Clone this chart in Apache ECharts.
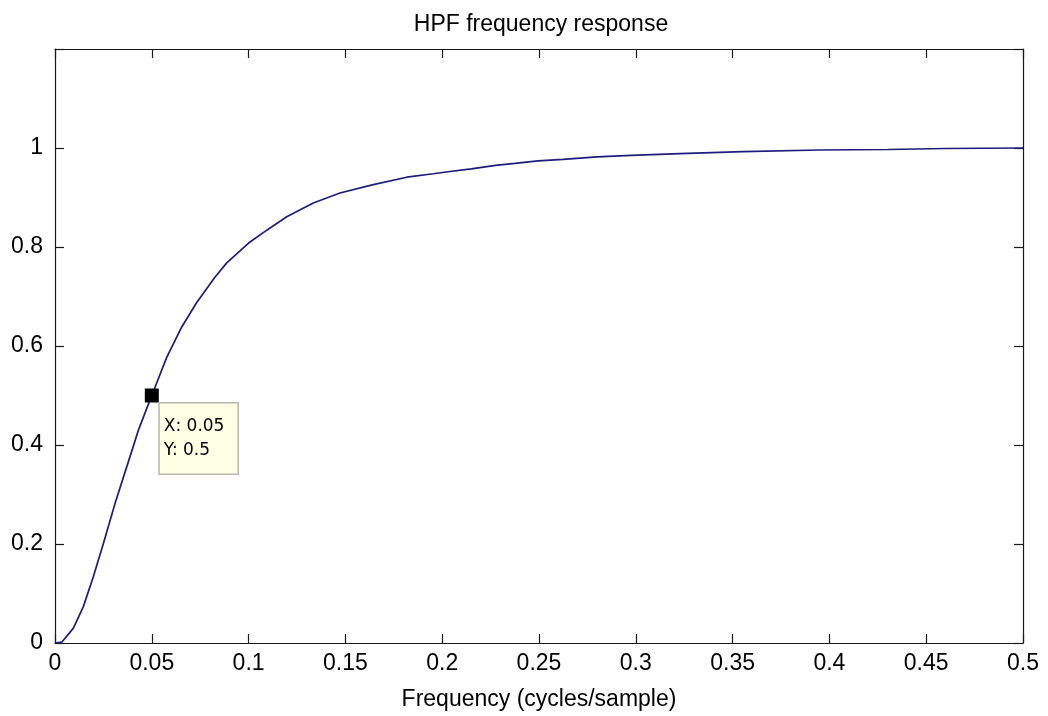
<!DOCTYPE html>
<html>
<head>
<meta charset="utf-8">
<script src="https://cdn.jsdelivr.net/npm/echarts@6/dist/echarts.min.js"></script>
<style>
html,body{margin:0;padding:0;background:#fff;}
#chart{width:1048px;height:716px;}
</style>
</head>
<body>
<div id="chart"></div>
<script>
// Data
var freq = [0, 0.0036, 0.0095, 0.0146, 0.0198, 0.025, 0.031, 0.0387, 0.043, 0.0474, 0.05, 0.0577, 0.0654, 0.0732, 0.0826, 0.0887, 0.1, 0.1094, 0.1197, 0.1334, 0.1472, 0.1644, 0.1817, 0.1954, 0.203, 0.215, 0.2275, 0.2376, 0.2495, 0.2624, 0.28, 0.2975, 0.3228, 0.3554, 0.395, 0.43, 0.46, 0.5];
var magnitude = [0, 0.002, 0.030, 0.073, 0.134, 0.201, 0.282, 0.376, 0.429, 0.474, 0.5, 0.577, 0.638, 0.688, 0.739, 0.768, 0.808, 0.834, 0.861, 0.889, 0.909, 0.926, 0.941, 0.948, 0.952, 0.958, 0.965, 0.969, 0.974, 0.977, 0.982, 0.985, 0.9885, 0.9925, 0.996, 0.997, 0.999, 1.0];
var tipX = [0.05];
var tipY = [0.5];
var xTickLabels = ['0', '0.05', '0.1', '0.15', '0.2', '0.25', '0.3', '0.35', '0.4', '0.45', '0.5'];
var yTickLabels = ['0', '0.2', '0.4', '0.6', '0.8', '1', ''];
var titleText = 'HPF frequency response';
var xAxisName = 'Frequency (cycles/sample)';

var lineData = freq.map(function (f, i) { return [f, magnitude[i]]; });
var tipData = tipX.map(function (x, i) { return [x, tipY[i]]; });

var FONT = '"Liberation Sans", Arial, sans-serif';
var axisColor = '#1a1a1a';

function xFmt(v) { var i = Math.round(v / 0.05); return xTickLabels[i] !== undefined ? xTickLabels[i] : ''; }
function yFmt(v) { var i = Math.round(v / 0.2); return yTickLabels[i] !== undefined ? yTickLabels[i] : ''; }

var chart = echarts.init(document.getElementById('chart'), null, {renderer: 'canvas'});
var baseX = {
  type: 'value', min: 0, max: 0.5, interval: 0.05,
  axisLine: {show: true, onZero: false, lineStyle: {color: axisColor, width: 1.2}},
  axisTick: {show: true, inside: true, length: 9, lineStyle: {color: axisColor, width: 1.2}},
  splitLine: {show: false}
};
var baseY = {
  type: 'value', min: 0, max: 1.2, interval: 0.2,
  axisLine: {show: true, onZero: false, lineStyle: {color: axisColor, width: 1.2}},
  axisTick: {show: true, inside: true, length: 9, lineStyle: {color: axisColor, width: 1.2}},
  splitLine: {show: false}
};
chart.setOption({
  animation: false,
  backgroundColor: '#ffffff',
  title: {
    text: titleText, left: 536, textAlign: 'center', top: 8,
    textStyle: {fontFamily: FONT, fontSize: 23, fontWeight: 'normal', color: '#000'}
  },
  grid: {left: 55, right: 25, top: 49, bottom: 73},
  xAxis: [
    Object.assign({}, baseX, {
      position: 'bottom',
      name: xAxisName, nameLocation: 'middle', nameGap: 45,
      nameTextStyle: {fontFamily: FONT, fontSize: 23, color: '#000'},
      axisLabel: {show: true, margin: 9, formatter: xFmt, fontFamily: FONT, fontSize: 23, color: '#000', showMaxLabel: true, showMinLabel: true}
    }),
    Object.assign({}, baseX, {position: 'top', axisLabel: {show: false}})
  ],
  yAxis: [
    Object.assign({}, baseY, {
      position: 'left',
      axisLabel: {show: true, margin: 12, formatter: yFmt, fontFamily: FONT, fontSize: 23, color: '#000'}
    }),
    Object.assign({}, baseY, {position: 'right', axisLabel: {show: false}})
  ],
  series: [
    {
      type: 'line', data: lineData, showSymbol: false, smooth: false,
      lineStyle: {color: '#1c1c7c', width: 1.7}, z: 2
    },
    {
      type: 'scatter', data: tipData, symbol: 'rect', symbolSize: 14,
      itemStyle: {color: '#000', opacity: 1}, z: 5,
      label: {
        show: true, position: [15, 15], align: 'left', verticalAlign: 'top',
        formatter: function (p) { return 'X: ' + tipX[p.dataIndex] + '\nY: ' + tipY[p.dataIndex]; },
        fontFamily: '"DejaVu Sans", sans-serif', fontSize: 17, lineHeight: 24, color: '#000',
        backgroundColor: '#ffffe4', borderColor: '#b8b8b0', borderWidth: 1.5,
        padding: [11, 13, 11, 4]
      }
    }
  ]
});
</script>
</body>
</html>
